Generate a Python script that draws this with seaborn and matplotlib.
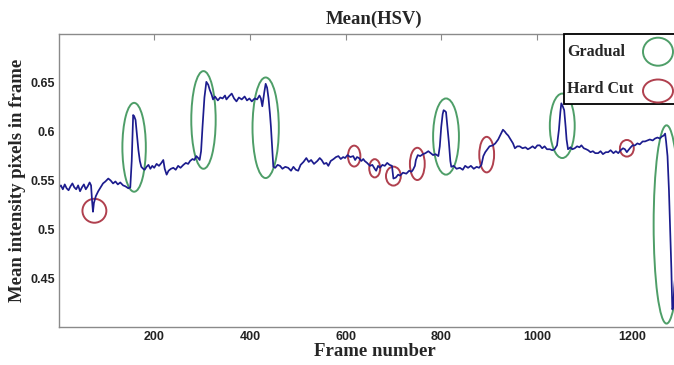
import numpy as np
import pandas as pd
import matplotlib
matplotlib.use('Agg')
import matplotlib.pyplot as plt
import seaborn as sns
from matplotlib.patches import Ellipse, Rectangle
from matplotlib.ticker import FixedLocator, FuncFormatter

# ── Data ──────────────────────────────────────────────────────────────────────

frames = [
    1, 5, 9, 13, 17, 21, 25, 29, 33, 37, 41, 45, 49, 53, 57, 61, 65, 68, 70, 72,
    74, 78, 83, 88, 93, 98, 104, 109, 114, 119, 124, 129, 135, 140, 146, 150,
    153, 156, 158, 161, 164, 167, 170, 173, 177, 180, 184, 188, 192, 196, 200,
    205, 210, 215, 219, 222, 226, 230, 235, 240, 245, 250, 255, 261, 266, 271,
    275, 280, 284, 288, 292, 295, 298, 301, 305, 309, 313, 316, 320, 323, 327,
    333, 338, 343, 348, 351, 356, 362, 367, 372, 377, 383, 389, 394, 399, 404,
    410, 415, 420, 423, 426, 430, 433, 436, 439, 442, 444, 447, 449, 453, 458,
    463, 468, 474, 480, 486, 491, 496, 501, 506, 512, 518, 523, 528, 534, 541,
    546, 550, 555, 560, 564, 569, 575, 580, 585, 590, 595, 599, 604, 610, 616,
    620, 624, 628, 633, 637, 640, 645, 651, 656, 661, 664, 668, 672, 677, 682,
    687, 692, 697, 700, 705, 710, 714, 720, 727, 733, 738, 741, 745, 747, 751,
    756, 762, 767, 773, 778, 783, 788, 794, 797, 800, 803, 805, 808, 810, 813,
    816, 819, 821, 826, 832, 839, 845, 850, 856, 862, 868, 874, 879, 884, 888,
    892, 895, 901, 908, 913, 919, 924, 929, 933, 936, 940, 945, 950, 954, 959,
    964, 970, 976, 981, 985, 991, 996, 1001, 1006, 1011, 1016, 1021, 1027, 1032,
    1037, 1042, 1046, 1049, 1051, 1054, 1057, 1060, 1062, 1065, 1070, 1074,
    1079, 1084, 1089, 1093, 1098, 1103, 1107, 1112, 1117, 1122, 1128, 1133,
    1138, 1144, 1149, 1154, 1160, 1165, 1170, 1175, 1180, 1184, 1188, 1191,
    1196, 1200, 1205, 1210, 1215, 1221, 1226, 1231, 1236, 1242, 1247, 1252,
    1257, 1261, 1265, 1268, 1270, 1273, 1276, 1278, 1281, 1283, 1285, 1287,
    1290, 1292,
]

mean_hsv = [
    0.543, 0.545, 0.541, 0.546, 0.542, 0.540, 0.544, 0.547, 0.543, 0.541, 0.545,
    0.539, 0.543, 0.546, 0.541, 0.544, 0.548, 0.545, 0.530, 0.518, 0.527, 0.534,
    0.539, 0.543, 0.547, 0.549, 0.552, 0.550, 0.547, 0.549, 0.546, 0.548, 0.545,
    0.544, 0.542, 0.543,
    0.570, 0.617, 0.616, 0.612, 0.597, 0.581, 0.570, 0.564, 0.562, 0.561, 0.564,
    0.566, 0.562, 0.565, 0.563, 0.567, 0.565, 0.568, 0.571, 0.562, 0.556, 0.560,
    0.562, 0.563, 0.561, 0.565, 0.563, 0.566, 0.568, 0.567, 0.570, 0.572, 0.571,
    0.575, 0.573, 0.571, 0.580, 0.605, 0.635, 0.651, 0.648, 0.643, 0.638, 0.633,
    0.636, 0.632, 0.635, 0.634, 0.637, 0.633, 0.636, 0.639, 0.634, 0.631, 0.635,
    0.633, 0.636, 0.632, 0.634, 0.631, 0.634, 0.633, 0.637, 0.634, 0.626, 0.640,
    0.649, 0.645, 0.634, 0.618, 0.605, 0.580, 0.564, 0.563, 0.566, 0.565, 0.562,
    0.564, 0.563, 0.560, 0.564, 0.561, 0.560, 0.566, 0.569, 0.573, 0.569, 0.571,
    0.567, 0.570, 0.573, 0.571, 0.567, 0.568, 0.565, 0.570, 0.572, 0.574, 0.575,
    0.572, 0.574, 0.573, 0.576, 0.574, 0.575, 0.571, 0.574, 0.573, 0.570, 0.572,
    0.570, 0.568, 0.565, 0.566, 0.562, 0.560, 0.565, 0.563, 0.566, 0.565, 0.568,
    0.566, 0.565, 0.552, 0.553, 0.556, 0.555, 0.558, 0.557, 0.560, 0.559, 0.561,
    0.565, 0.571, 0.576, 0.575, 0.577, 0.578, 0.580, 0.578, 0.576, 0.577, 0.575,
    0.585, 0.605, 0.618, 0.622, 0.621, 0.620, 0.605, 0.589, 0.570, 0.564, 0.565,
    0.562, 0.563, 0.561, 0.565, 0.563, 0.565, 0.562, 0.564, 0.563, 0.566, 0.575,
    0.579, 0.581, 0.585, 0.586, 0.588, 0.592, 0.597, 0.602, 0.600, 0.598, 0.596,
    0.592, 0.588, 0.583, 0.585, 0.585, 0.583, 0.584, 0.582, 0.583, 0.585, 0.583,
    0.586, 0.586, 0.583, 0.585, 0.582, 0.582, 0.581, 0.582, 0.586, 0.602, 0.620,
    0.629, 0.626, 0.622, 0.605, 0.592, 0.582, 0.584, 0.582, 0.583, 0.585, 0.584,
    0.586, 0.583, 0.582, 0.581, 0.579, 0.580, 0.578, 0.578, 0.580, 0.577, 0.579,
    0.579, 0.581, 0.578, 0.580, 0.578, 0.581, 0.583, 0.582, 0.579, 0.581, 0.584,
    0.586, 0.586, 0.588, 0.587, 0.590, 0.590, 0.591, 0.592, 0.591, 0.593, 0.594,
    0.593, 0.595, 0.596, 0.598, 0.590, 0.575, 0.540, 0.507, 0.460, 0.418, 0.420,
    0.440, 0.458, 0.462,
]

# transitions marked in the figure: (frame, value at centre of the mark)
gradual_frames = [158, 303, 433, 810, 1053, 1271]
gradual_values = [0.584, 0.612, 0.604, 0.595, 0.606, 0.505]
hardcut_frames = [75, 618, 661, 700, 750, 895, 1188]
hardcut_values = [0.519, 0.575, 0.5625, 0.5545, 0.567, 0.5765, 0.583]

x_ticks = [200, 400, 600, 800, 1000, 1200]
y_ticks = [0.45, 0.5, 0.55, 0.6, 0.65]

# mark sizes (frames, value units)
gradual_w = [49, 51, 55, 54, 52, 54]
gradual_h = [0.091, 0.100, 0.103, 0.078, 0.066, 0.203]
hardcut_w = [50, 26, 23, 31, 31, 31, 29]
hardcut_h = [0.0245, 0.0214, 0.0187, 0.0194, 0.033, 0.0364, 0.017]

GREEN = '#4e9e68'
RED   = '#b0404e'
LINE  = '#1c1c8e'
SPINE = '#8a8a8a'

# ── Figure ────────────────────────────────────────────────────────────────────

sns.set_style('white')
plt.rcParams['font.family'] = ['Liberation Serif', 'DejaVu Serif']

df = pd.DataFrame({'frame': frames, 'mean': mean_hsv})

fig = plt.figure(figsize=(6.74, 3.65), dpi=100)
ax = fig.add_axes([59 / 674, 38 / 365, 631 / 674, 293 / 365])

sns.lineplot(data=df, x='frame', y='mean', ax=ax, color=LINE, linewidth=1.25)

for f, v, w, h in zip(gradual_frames, gradual_values, gradual_w, gradual_h):
    ax.add_patch(Ellipse((f, v), w, h, fill=False, edgecolor=GREEN, lw=1.4,
                         clip_on=False))
for f, v, w, h in zip(hardcut_frames, hardcut_values, hardcut_w, hardcut_h):
    ax.add_patch(Ellipse((f, v), w, h, fill=False, edgecolor=RED, lw=1.4,
                         clip_on=False))

ax.set_xlim(1, 1320)
ax.set_ylim(0.40, 0.70)
ax.xaxis.set_major_locator(FixedLocator(x_ticks))
ax.yaxis.set_major_locator(FixedLocator(y_ticks))
ax.yaxis.set_major_formatter(FuncFormatter(lambda v, p: f'{v:g}'))
ax.tick_params(direction='in', length=4, width=0.8, color=SPINE,
               top=True, right=True, labelsize=9, pad=3)
for lbl in ax.get_xticklabels() + ax.get_yticklabels():
    lbl.set_fontfamily(['Liberation Sans', 'DejaVu Sans'])
    lbl.set_fontweight('bold')
    lbl.set_color('#222222')
for sp in ax.spines.values():
    sp.set_color(SPINE)
    sp.set_linewidth(1.0)

ax.set_title('Mean(HSV)', fontsize=13.5, fontweight='bold', pad=7)
ax.set_xlabel('Frame number', fontsize=13.5, fontweight='bold', labelpad=0)
ax.set_ylabel('Mean intensity pixels in frame', fontsize=13.5,
              fontweight='bold', labelpad=3)

# ── Legend box (drawn by hand, like the original) ─────────────────────────────

px = lambda x, y: (x / 674, 1 - y / 365)
fig.add_artist(Rectangle(px(563.5, 104), 140 / 674, 70 / 365, fill=True,
                         facecolor='white', edgecolor='black', lw=1.3,
                         transform=fig.transFigure, zorder=5))
fig.text(*px(567, 52), 'Gradual', fontsize=11.5, fontweight='bold',
         va='center', ha='left', zorder=6)
fig.text(*px(567, 89), 'Hard Cut', fontsize=11.5, fontweight='bold',
         va='center', ha='left', zorder=6)
fig.add_artist(Ellipse(px(658, 51.7), 30 / 674, 28 / 365, fill=False,
                       edgecolor=GREEN, lw=1.4, transform=fig.transFigure,
                       zorder=6))
fig.add_artist(Ellipse(px(658, 91), 30 / 674, 23 / 365, fill=False,
                       edgecolor=RED, lw=1.4, transform=fig.transFigure,
                       zorder=6))

plt.savefig('out.png', dpi=100)
plt.close()
